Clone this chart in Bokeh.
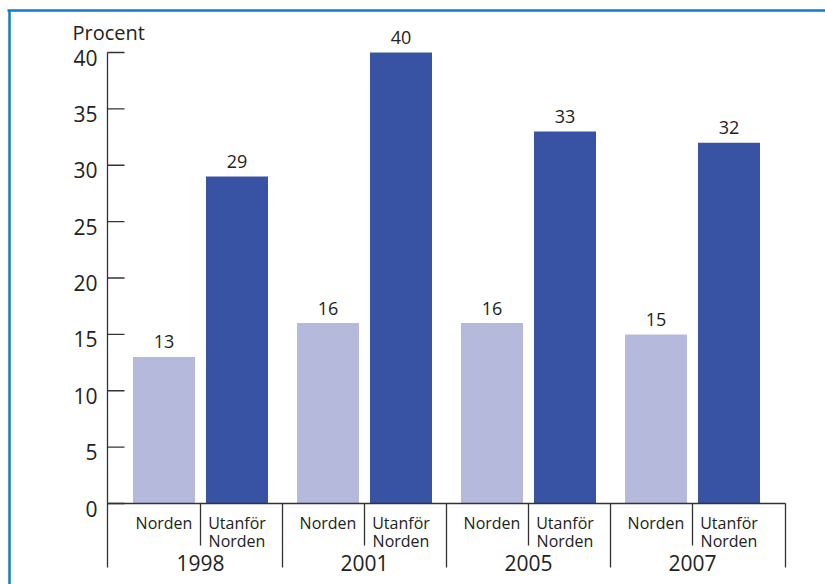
from bokeh.plotting import figure
from bokeh.models import Range1d
from bokeh.core.properties import value
from bokeh.embed import file_html
from bokeh.resources import INLINE

# ---- data ----
years = ["1998", "2001", "2005", "2007"]
norden = [13, 16, 16, 15]
utanfor = [29, 40, 33, 32]
cat_lines = [["Norden"], ["Utanför", "Norden"]]
y_ticks = [0, 5, 10, 15, 20, 25, 30, 35, 40]
y_label = "Procent"

# ---- layout (pixel geometry mapped into data space) ----
W, H = 825, 584
X0, XS = 200.0, 164.0          # pixel of group 0 centre, pixels per group
Y0, YS = 503.0, 451.0 / 40.0   # pixel of value 0, pixels per unit


def dx(px):
    return (px - X0) / XS


def dy(py):
    return (Y0 - py) / YS


FONT = value("Open Sans")
TXT = "#222222"
LINE = "#333333"
LIGHT = "#b5b9dc"
DARK = "#3953a4"

p = figure(width=W, height=H, output_backend="svg", toolbar_location=None,
           x_range=Range1d(dx(0), dx(W)), y_range=Range1d(dy(H), dy(0)),
           min_border=0, min_border_left=0, min_border_right=0,
           min_border_top=0, min_border_bottom=0)
p.axis.visible = False
p.grid.visible = False
p.outline_line_color = None
p.background_fill_color = "white"
p.border_fill_color = "white"

# blue frame
p.segment(x0=[dx(7), dx(9)], y0=[dy(10), dy(10)], x1=[dx(W + 5), dx(9)], y1=[dy(10), dy(H + 5)],
          line_color="#0f7cc6", line_width=2.5)

# bars
off = 36.5 / XS
bw = 62.0 / XS
gx = list(range(len(years)))
p.vbar(x=[g - off for g in gx], top=norden, bottom=0, width=bw, fill_color=LIGHT, line_color=None)
p.vbar(x=[g + off for g in gx], top=utanfor, bottom=0, width=bw, fill_color=DARK, line_color=None)

# value labels
p.text(x=[g - off for g in gx] + [g + off for g in gx], y=norden + utanfor,
       text=[str(v) for v in norden + utanfor], text_font=FONT, text_font_size="18px",
       text_color=TXT, text_align="center", text_baseline="middle", y_offset=-15)

# y axis
ax = dx(107)
p.segment(x0=[ax], y0=[y_ticks[-1]], x1=[ax], y1=[dy(567)], line_color=LINE, line_width=1.3)
p.segment(x0=[ax] * len(y_ticks), y0=y_ticks, x1=[dx(124)] * len(y_ticks), y1=y_ticks,
          line_color=LINE, line_width=1.3)
p.text(x=[dx(97)] * len(y_ticks), y=y_ticks, text=[str(t) for t in y_ticks], text_font=FONT,
       text_font_size="21px", text_color=TXT, text_align="right", text_baseline="middle", y_offset=5)
p.text(x=[dx(72)], y=[dy(31.5)], text=[y_label], text_font=FONT, text_font_size="20px",
       text_color=TXT, text_align="left", text_baseline="middle")

# x baseline and separators
p.segment(x0=[ax], y0=[0], x1=[dx(785)], y1=[0], line_color=LINE, line_width=1.3)
outer = [g - 0.5 for g in gx[1:]] + [dx(785)]
p.segment(x0=outer, y0=[0] * len(outer), x1=outer, y1=[dy(567)] * len(outer),
          line_color=LINE, line_width=1.3)
p.segment(x0=gx, y0=[0] * len(gx), x1=gx, y1=[dy(545)] * len(gx), line_color=LINE, line_width=1.3)

# category labels
for j, lines in enumerate(cat_lines):
    xs = [g + (2 * j - 1) * off for g in gx]
    for k, line in enumerate(lines):
        p.text(x=xs, y=[dy(522.5 + 18 * k)] * len(xs), text=[line] * len(xs), text_font=FONT,
               text_font_size="16px", text_color=TXT, text_align="center",
               text_baseline="middle")

# year labels
p.text(x=gx, y=[dy(562)] * len(gx), text=years, text_font=FONT, text_font_size="21px",
       text_color=TXT, text_align="center", text_baseline="middle")

open("out.html", "w").write(file_html(p, INLINE))
